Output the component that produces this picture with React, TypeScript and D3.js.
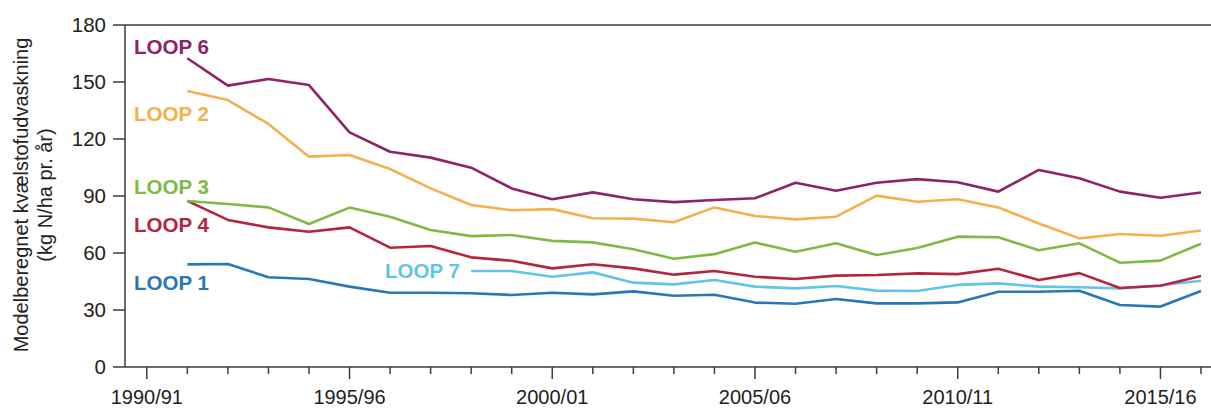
import React from 'react';
import * as d3 from 'd3';

const seasons = [
  '1990/91', '1991/92', '1992/93', '1993/94', '1994/95', '1995/96', '1996/97', '1997/98', '1998/99',
  '1999/00', '2000/01', '2001/02', '2002/03', '2003/04', '2004/05', '2005/06', '2006/07', '2007/08',
  '2008/09', '2009/10', '2010/11', '2011/12', '2012/13', '2013/14', '2014/15', '2015/16', '2016/17',
];
const dataSeasons = [
  '1991/92', '1992/93', '1993/94', '1994/95', '1995/96', '1996/97', '1997/98', '1998/99',
  '1999/00', '2000/01', '2001/02', '2002/03', '2003/04', '2004/05', '2005/06', '2006/07', '2007/08',
  '2008/09', '2009/10', '2010/11', '2011/12', '2012/13', '2013/14', '2014/15', '2015/16', '2016/17',
];
const labeledSeasons = ['1990/91', '1995/96', '2000/01', '2005/06', '2010/11', '2015/16'];
const yTicks = [0, 30, 60, 90, 120, 150, 180];

const loop6 = [162.5, 148.1, 151.6, 148.4, 123.5, 113.3, 110.2, 104.9, 94.0, 88.3, 91.9, 88.3, 86.8, 87.9, 88.8, 97.0, 92.8, 97.0, 98.9, 97.2, 92.3, 103.7, 99.3, 92.3, 89.1, 91.8];
const loop2 = [145.3, 140.5, 127.9, 110.7, 111.6, 104.2, 94.0, 85.3, 82.5, 83.1, 78.3, 78.1, 76.2, 84.0, 79.5, 77.7, 79.1, 90.2, 87.0, 88.3, 84.0, 75.5, 67.7, 70.0, 69.1, 71.8];
const loop3 = [87.4, 85.8, 84.0, 75.3, 83.9, 79.1, 72.1, 68.9, 69.5, 66.4, 65.6, 62.0, 57.0, 59.4, 65.5, 60.7, 65.1, 58.9, 62.6, 68.6, 68.3, 61.4, 65.1, 54.9, 56.0, 64.9];
const loop4 = [87.4, 77.4, 73.5, 71.2, 73.5, 62.8, 63.7, 57.7, 55.9, 51.9, 54.1, 51.9, 48.6, 50.5, 47.5, 46.3, 48.1, 48.4, 49.3, 48.9, 51.7, 45.8, 49.4, 41.6, 42.8, 47.9];
const loop7: (number | null)[] = [null, null, null, null, null, null, null, 50.5, 50.5, 47.5, 49.8, 44.4, 43.5, 45.8, 42.3, 41.4, 42.6, 40.2, 40.0, 43.2, 44.0, 42.3, 42.0, 41.4, 43.0, 45.4];
const loop1 = [54.0, 54.2, 47.2, 46.3, 42.3, 39.1, 39.1, 38.8, 37.9, 39.1, 38.2, 39.8, 37.5, 38.0, 33.9, 33.3, 35.8, 33.5, 33.5, 34.0, 39.6, 39.6, 40.1, 32.6, 31.8, 40.0];

const seriesNames = ['LOOP 1', 'LOOP 7', 'LOOP 4', 'LOOP 3', 'LOOP 2', 'LOOP 6'];
const seriesColors = ['#2a77b6', '#62c4e8', '#b5253f', '#7fba44', '#f4b04c', '#8c2467'];
const seriesValues = [loop1, loop7, loop4, loop3, loop2, loop6];
// label anchor positions (x, baseline y) in pixels
const labelPos: [number, number][] = [[134, 290], [385, 278], [134, 232], [134, 194], [134, 121], [134, 54]];

const FONT = '"Liberation Sans", Arial, Helvetica, sans-serif';
const AXIS = '#3d3d3d';

export default function App() {
  const W = 1211;
  const H = 410;
  const x = d3.scalePoint<string>().domain(seasons).range([146.8, 1201]);
  const y = d3.scaleLinear().domain([0, 180]).range([367, 25]);
  const left = 125;

  const line = d3
    .line<number | null>()
    .defined((d) => d !== null)
    .x((_, i) => x(dataSeasons[i]) as number)
    .y((d) => y(d as number));

  return (
    <svg
      width={W}
      height={H}
      style={{ position: 'absolute', left: 0, top: 0, background: '#fff' }}
      fontFamily={FONT}
    >
      <rect x={0} y={0} width={W} height={H} fill="#fff" />
      {/* frame */}
      <line x1={left} x2={W} y1={y(180)} y2={y(180)} stroke={AXIS} strokeWidth={1.5} />
      <line x1={left} x2={W} y1={y(0)} y2={y(0)} stroke={AXIS} strokeWidth={1.5} />
      <line x1={left} x2={left} y1={y(180)} y2={y(0)} stroke={AXIS} strokeWidth={1.5} />
      {/* y ticks */}
      {yTicks.map((t) => (
        <g key={t}>
          <line x1={left - 12} x2={left} y1={y(t)} y2={y(t)} stroke={AXIS} strokeWidth={1.5} />
          <text x={106} y={y(t)} dy="0.36em" textAnchor="end" fontSize={20.5} fill="#222">
            {t}
          </text>
        </g>
      ))}
      {/* x ticks */}
      {seasons.map((s) => {
        const major = labeledSeasons.includes(s);
        const xx = x(s) as number;
        return (
          <g key={s}>
            <line x1={xx} x2={xx} y1={y(0)} y2={y(0) + (major ? 12 : 7)} stroke={AXIS} strokeWidth={1.5} />
            {major && (
              <text x={xx} y={404} textAnchor="middle" fontSize={20} fill="#222">
                {s}
              </text>
            )}
          </g>
        );
      })}
      {/* y axis title */}
      <text
        transform="translate(28,195) rotate(-90)"
        textAnchor="middle"
        fontSize={20}
        fill="#222"
      >
        Modelberegnet kvælstofudvaskning
      </text>
      <text transform="translate(52,195) rotate(-90)" textAnchor="middle" fontSize={20} fill="#222">
        (kg N/ha pr. år)
      </text>
      {/* series */}
      {seriesValues.map((vals, k) => (
        <path
          key={seriesNames[k]}
          d={line(vals) ?? ''}
          fill="none"
          stroke={seriesColors[k]}
          strokeWidth={2.6}
          strokeLinejoin="round"
        />
      ))}
      {seriesNames.map((n, k) => (
        <text
          key={n}
          x={labelPos[k][0]}
          y={labelPos[k][1]}
          fontSize={20.5}
          fontWeight="bold"
          fill={seriesColors[k]}
        >
          {n}
        </text>
      ))}
    </svg>
  );
}
